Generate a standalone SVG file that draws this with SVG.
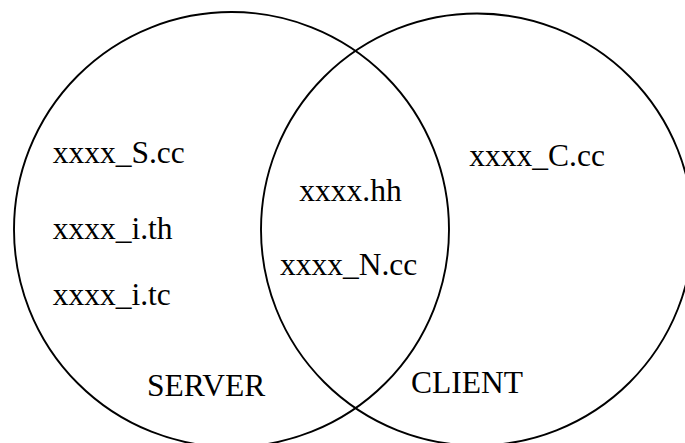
<svg xmlns="http://www.w3.org/2000/svg" width="685" height="443" viewBox="0 0 685 443">
  <style>
    .set { fill: none; stroke: #000; stroke-width: 1.9; }
    .lbl { font-family: "Liberation Serif", "Times New Roman", Times, serif; font-size: 31.5px; fill: #000; }
  </style>
  <rect width="685" height="443" fill="#fff"/>

  <!-- Server set: files built only on the server side -->
  <g id="server">
    <circle class="set" cx="231.5" cy="229.5" r="217.5"/>
    <text class="lbl" x="52.7" y="163">xxxx_S.cc</text>
    <text class="lbl" x="52.7" y="239">xxxx_i.th</text>
    <text class="lbl" x="52.7" y="305">xxxx_i.tc</text>
    <text class="lbl" x="147" y="396">SERVER</text>
  </g>

  <!-- Client set: files built only on the client side -->
  <g id="client">
    <circle class="set" cx="477" cy="229.5" r="216"/>
    <text class="lbl" x="469.3" y="166">xxxx_C.cc</text>
    <text class="lbl" x="411" y="393">CLIENT</text>
  </g>

  <!-- Shared files in the overlap -->
  <g id="shared">
    <text class="lbl" x="299.3" y="201">xxxx.hh</text>
    <text class="lbl" x="280" y="275">xxxx_N.cc</text>
  </g>

  <g id="connectors"/>
</svg>
